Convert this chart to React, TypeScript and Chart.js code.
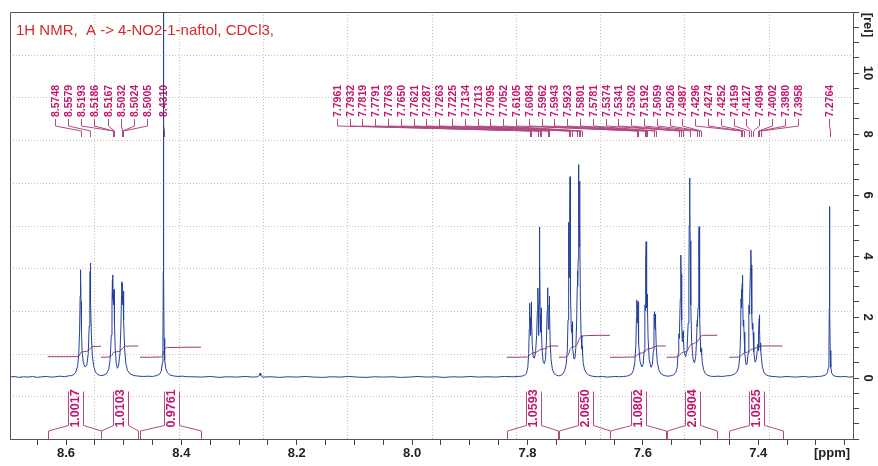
import React, { useEffect, useRef } from 'react';
import { Chart, registerables } from 'chart.js';

Chart.register(...registerables);

const W = 878;
const H = 466;
const X_MIN = 7.2358;
const X_MAX = 8.6971;
const Y_MIN = -2;
const Y_MAX = 12;
const FONT = "'Liberation Sans', Arial, sans-serif";

const titleText = '1H NMR,  A -> 4-NO2-1-naftol, CDCl3,';
const xUnit = '[ppm]';
const yUnit = '[rel]';
const xMajorTicks = [8.6, 8.4, 8.2, 8.0, 7.8, 7.6, 7.4];
const xMinorStep = 0.05;
const yMajorTicks = [0, 2, 4, 6, 8, 10];
const yMinorStep = 0.5;

// peak picking labels
const leftPeakLabels = [8.5748, 8.5579, 8.5193, 8.5186, 8.5167, 8.5032, 8.5024, 8.5005];
const rightPeakLabels = [
  7.7961, 7.7932, 7.7819, 7.7791, 7.7763, 7.765, 7.7621,
  7.7287, 7.7263, 7.7225, 7.7134, 7.7113, 7.7095, 7.7052,
  7.6105, 7.6084, 7.5962, 7.5943, 7.5923, 7.5801, 7.5781,
  7.5374, 7.5341, 7.5302, 7.5192, 7.5059, 7.5026, 7.4987,
  7.4296, 7.4274, 7.4252, 7.4159, 7.4127, 7.4094, 7.4002, 7.398, 7.3958,
];
const singlePeakLabels = [8.431, 7.2764];

// integrals
const integralStart = [8.6317, 8.5393, 8.4717, 7.8361, 7.7454, 7.657, 7.5588, 7.4502];
const integralEnd = [8.5393, 8.4747, 8.366, 7.7466, 7.657, 7.5605, 7.4711, 7.3577];
const integralValues = ['1.0017', '1.0103', '0.9761', '1.0593', '2.0650', '1.0802', '2.0904', '1.0525'];

// spectrum [ppm, intensity]
const spectrumA = [
  [8.697, 0.03], [8.69, 0.05], [8.682, 0.02], [8.674, 0.04], [8.666, 0.03], [8.658, 0.05], [8.65, 0.02],
  [8.642, 0.04], [8.634, 0.05], [8.626, 0.03], [8.618, 0.04], [8.61, 0.06], [8.602, 0.04], [8.596, 0.07],
  [8.59, 0.08], [8.586, 0.12], [8.583, 0.2], [8.58, 0.38], [8.578, 0.75], [8.5765, 1.5], [8.5755, 2.7],
  [8.575, 3.3], [8.5748, 3.55], [8.5745, 3.3], [8.574, 2.5], [8.5732, 1.5], [8.572, 0.85], [8.57, 0.5],
  [8.567, 0.36], [8.564, 0.42], [8.5615, 0.8], [8.5598, 1.7], [8.5587, 2.9], [8.5582, 3.5], [8.5579, 3.77],
  [8.5576, 3.4], [8.557, 2.5], [8.556, 1.4], [8.5545, 0.75], [8.552, 0.38], [8.549, 0.2], [8.545, 0.11],
  [8.54, 0.08], [8.535, 0.09], [8.53, 0.14], [8.526, 0.28], [8.5235, 0.6], [8.5215, 1.4], [8.5203, 2.5],
  [8.5196, 3.2], [8.5193, 3.38], [8.519, 2.6], [8.5187, 3.25], [8.5184, 2.5], [8.5178, 2.8], [8.5172, 2.4],
  [8.5167, 2.9], [8.516, 1.8], [8.5148, 1.0], [8.513, 0.5], [8.511, 0.32], [8.509, 0.38], [8.5065, 0.8],
  [8.5048, 1.7], [8.5038, 2.7], [8.5034, 3.0], [8.5032, 3.16], [8.5029, 2.5], [8.5026, 3.05], [8.5024, 3.1],
  [8.502, 2.4], [8.5013, 2.6], [8.5008, 2.5], [8.5005, 2.85], [8.4998, 1.9], [8.4985, 1.0], [8.4965, 0.5],
  [8.4935, 0.25], [8.489, 0.13], [8.482, 0.08], [8.474, 0.06], [8.466, 0.05], [8.458, 0.06], [8.45, 0.05],
  [8.443, 0.08], [8.438, 0.12], [8.435, 0.22], [8.433, 0.5], [8.432, 1.2], [8.4314, 3.5], [8.4311, 9],
  [8.431, 15], [8.4309, 9], [8.4306, 3.5], [8.43, 1.3], [8.429, 0.6], [8.427, 0.3], [8.424, 0.17],
  [8.42, 0.1], [8.414, 0.07], [8.406, 0.05], [8.398, 0.06], [8.39, 0.04],
];

const spectrumB = [
  [8.38, 0.04], [8.365, 0.03], [8.35, 0.05], [8.335, 0.02], [8.32, 0.04], [8.305, 0.03], [8.29, 0.05],
  [8.275, 0.03], [8.268, 0.04], [8.265, 0.08], [8.2637, 0.16], [8.2625, 0.08], [8.259, 0.03], [8.245, 0.04],
  [8.23, 0.02], [8.215, 0.04], [8.2, 0.03], [8.185, 0.05], [8.17, 0.03], [8.155, 0.02], [8.14, 0.04],
  [8.125, 0.03], [8.11, 0.05], [8.095, 0.03], [8.08, 0.02], [8.065, 0.04], [8.05, 0.03], [8.035, 0.04],
  [8.02, 0.02], [8.005, 0.03], [7.99, 0.05], [7.975, 0.03], [7.96, 0.04], [7.945, 0.02], [7.93, 0.04],
  [7.915, 0.03], [7.9, 0.05], [7.885, 0.03], [7.87, 0.04], [7.855, 0.03], [7.84, 0.05], [7.825, 0.04],
];

const spectrumC = [
  [7.816, 0.05], [7.81, 0.06], [7.806, 0.08], [7.802, 0.15], [7.7995, 0.35], [7.798, 0.8], [7.797, 1.6],
  [7.7964, 2.2], [7.7961, 2.45], [7.7957, 2.0], [7.795, 1.5], [7.7945, 1.4], [7.7938, 1.9], [7.7934, 2.4],
  [7.7932, 2.5], [7.7928, 2.0], [7.7918, 1.1], [7.79, 0.68], [7.788, 0.65], [7.786, 0.85], [7.7842, 1.4],
  [7.783, 2.2], [7.7823, 2.8], [7.7819, 2.95], [7.7815, 2.4], [7.7808, 1.4], [7.78, 2.4], [7.7795, 4.0],
  [7.7791, 4.95], [7.7787, 3.9], [7.778, 2.0], [7.7772, 1.5], [7.7766, 2.1], [7.7763, 2.3], [7.7758, 1.7],
  [7.7748, 0.95], [7.773, 0.55], [7.771, 0.47], [7.769, 0.6], [7.7672, 1.2], [7.766, 2.2], [7.7653, 2.8],
  [7.765, 2.96], [7.7646, 2.4], [7.7638, 1.6], [7.763, 1.8], [7.7625, 2.4], [7.7621, 2.69], [7.7617, 2.2],
  [7.7608, 1.2], [7.7592, 0.6], [7.757, 0.3], [7.754, 0.15], [7.75, 0.09], [7.746, 0.07], [7.742, 0.09],
  [7.7385, 0.14], [7.7355, 0.25], [7.733, 0.45], [7.731, 0.9], [7.7298, 1.9], [7.7291, 3.8], [7.7287, 5.1],
  [7.7283, 4.0], [7.7278, 3.3], [7.7272, 3.7], [7.7267, 5.2], [7.7263, 6.6], [7.7259, 5.0], [7.7252, 2.8],
  [7.7242, 1.6], [7.7232, 1.5], [7.7228, 1.75], [7.7225, 1.85], [7.7221, 1.5], [7.7212, 1.0], [7.7195, 0.62],
  [7.7178, 0.65], [7.7162, 1.0], [7.7148, 1.9], [7.7138, 3.0], [7.7134, 3.5], [7.7129, 3.0], [7.7122, 3.9],
  [7.7116, 6.0], [7.7113, 7.0], [7.711, 5.8], [7.7104, 4.3], [7.7099, 5.2], [7.7095, 6.45], [7.7091, 4.9],
  [7.7084, 2.6], [7.7072, 1.4], [7.7062, 1.0], [7.7056, 0.95], [7.7052, 1.05], [7.7046, 0.8], [7.7035, 0.5],
  [7.7015, 0.3], [7.6985, 0.17], [7.6945, 0.1],
];

const spectrumD = [
  [7.69, 0.07], [7.685, 0.05], [7.678, 0.04], [7.67, 0.05], [7.662, 0.03], [7.655, 0.04], [7.648, 0.05],
  [7.641, 0.04], [7.634, 0.05], [7.628, 0.06], [7.625, 0.08], [7.62, 0.12], [7.6165, 0.25], [7.614, 0.5],
  [7.6122, 1.1], [7.6112, 2.0], [7.6107, 2.45], [7.6105, 2.56], [7.6101, 2.2], [7.6095, 1.8], [7.6089, 2.2],
  [7.6086, 2.45], [7.6084, 2.5], [7.608, 2.0], [7.607, 1.15], [7.605, 0.55], [7.602, 0.36], [7.5995, 0.45],
  [7.5978, 0.9], [7.5968, 1.8], [7.5964, 2.3], [7.5962, 2.4], [7.5958, 2.2], [7.5952, 2.6], [7.5947, 3.8],
  [7.5943, 4.47], [7.5939, 3.6], [7.5932, 2.3], [7.5926, 2.6], [7.5923, 2.75], [7.5919, 2.3], [7.591, 1.3],
  [7.589, 0.6], [7.586, 0.35], [7.5835, 0.45], [7.5818, 0.9], [7.5808, 1.7], [7.5803, 2.1], [7.5801, 2.17],
  [7.5797, 1.9], [7.579, 1.6], [7.5785, 1.95], [7.5781, 2.1], [7.5777, 1.8], [7.5768, 1.0], [7.575, 0.5],
  [7.572, 0.25], [7.568, 0.13], [7.563, 0.08], [7.558, 0.06], [7.552, 0.07], [7.547, 0.1], [7.543, 0.18],
  [7.5405, 0.35],
];

const spectrumE = [
  [7.539, 0.8], [7.538, 1.2], [7.5376, 1.4], [7.5374, 1.45], [7.537, 1.3], [7.5362, 1.5], [7.5352, 2.6],
  [7.5345, 3.6], [7.5341, 4.03], [7.5337, 3.4], [7.5328, 1.9], [7.5318, 1.2], [7.5308, 1.3], [7.5304, 1.5],
  [7.5302, 1.55], [7.5298, 1.3], [7.5285, 0.85], [7.526, 0.7], [7.5235, 0.9], [7.5215, 1.8], [7.5203, 3.4],
  [7.5197, 5.0], [7.5192, 6.56], [7.5188, 5.2], [7.5184, 5.4], [7.518, 4.5], [7.517, 2.4], [7.5155, 1.2],
  [7.513, 0.6], [7.5105, 0.5], [7.5085, 0.7], [7.507, 1.2], [7.5062, 1.75], [7.5059, 1.9], [7.5055, 1.7],
  [7.5044, 2.3], [7.5034, 3.8], [7.503, 4.5], [7.5026, 4.96], [7.5022, 4.2], [7.5012, 2.0], [7.5, 1.0],
  [7.4993, 0.85], [7.4987, 0.95], [7.4982, 0.8], [7.497, 0.5], [7.495, 0.28], [7.492, 0.15], [7.488, 0.09],
  [7.483, 0.06], [7.477, 0.05], [7.47, 0.06], [7.462, 0.05], [7.455, 0.07], [7.448, 0.08], [7.442, 0.12],
  [7.437, 0.2], [7.434, 0.35], [7.432, 0.7], [7.4306, 1.5], [7.4299, 2.6], [7.4296, 2.9], [7.4292, 2.5],
  [7.4284, 2.3], [7.4278, 3.1], [7.4274, 3.37], [7.427, 2.8], [7.4262, 1.7], [7.4256, 1.8], [7.4252, 1.9],
  [7.4247, 1.5], [7.4235, 0.85], [7.4215, 0.45], [7.4195, 0.45], [7.4178, 0.8], [7.4166, 1.7], [7.4161, 2.3],
  [7.4159, 2.4], [7.4155, 2.1], [7.4145, 2.4], [7.4135, 3.6], [7.4131, 4.0], [7.4127, 4.2], [7.4123, 3.7],
  [7.4113, 2.1], [7.4103, 1.6], [7.4098, 1.75], [7.4094, 1.8], [7.409, 1.5], [7.4078, 0.85], [7.4055, 0.52],
  [7.4035, 0.6], [7.4018, 0.9], [7.4008, 1.1], [7.4004, 1.0], [7.4002, 1.1], [7.3998, 0.9], [7.399, 1.4],
  [7.3984, 1.95], [7.398, 2.07], [7.3976, 1.6], [7.397, 1.0], [7.3964, 0.9], [7.396, 1.1], [7.3958, 1.15],
  [7.3954, 0.95], [7.3945, 0.65], [7.393, 0.38], [7.3905, 0.2], [7.387, 0.11], [7.382, 0.07],
];

const spectrumF = [
  [7.376, 0.05], [7.368, 0.04], [7.36, 0.03], [7.352, 0.05], [7.344, 0.04], [7.336, 0.03], [7.328, 0.04],
  [7.32, 0.05], [7.312, 0.03], [7.304, 0.04], [7.296, 0.05], [7.29, 0.06], [7.284, 0.09], [7.28, 0.18],
  [7.2785, 0.35], [7.2775, 0.9], [7.2769, 2.3], [7.2766, 4.0], [7.2764, 5.62], [7.2762, 4.0], [7.2759, 2.3],
  [7.2753, 0.9], [7.2743, 0.35], [7.2728, 0.17], [7.27, 0.08], [7.265, 0.05], [7.258, 0.04], [7.25, 0.05],
  [7.243, 0.03], [7.2358, 0.04],
];

// integral curves [ppm, value]
const integral1 = [[8.6317, 0.7], [8.584, 0.7], [8.578, 0.72], [8.5755, 0.79], [8.573, 0.85], [8.565, 0.87], [8.5595, 0.93], [8.557, 1.0], [8.553, 1.03], [8.5393, 1.04]];
const integral2 = [[8.5393, 0.68], [8.524, 0.69], [8.5205, 0.74], [8.518, 0.83], [8.512, 0.86], [8.5045, 0.91], [8.501, 1.0], [8.497, 1.04], [8.4747, 1.05]];
const integral3 = [[8.4717, 0.68], [8.436, 0.69], [8.4325, 0.74], [8.4305, 0.88], [8.428, 0.97], [8.424, 1.0], [8.366, 1.01]];
const integral4 = [[7.8361, 0.68], [7.8, 0.69], [7.7965, 0.74], [7.7925, 0.81], [7.785, 0.84], [7.7785, 0.93], [7.77, 0.96], [7.764, 1.03], [7.758, 1.05], [7.7466, 1.05]];
const integral5 = [[7.7454, 0.68], [7.733, 0.69], [7.729, 0.77], [7.7255, 0.97], [7.72, 1.02], [7.714, 1.1], [7.71, 1.3], [7.705, 1.37], [7.698, 1.39], [7.657, 1.4]];
const integral6 = [[7.657, 0.68], [7.614, 0.69], [7.6095, 0.76], [7.605, 0.81], [7.597, 0.85], [7.593, 0.94], [7.586, 0.97], [7.579, 1.03], [7.573, 1.05], [7.5605, 1.05]];
const integral7 = [[7.5588, 0.68], [7.54, 0.69], [7.5355, 0.77], [7.531, 0.84], [7.5235, 0.88], [7.5185, 1.06], [7.512, 1.13], [7.5045, 1.22], [7.5, 1.36], [7.494, 1.4], [7.4711, 1.4]];
const integral8 = [[7.4502, 0.68], [7.433, 0.69], [7.4285, 0.76], [7.4245, 0.82], [7.4185, 0.85], [7.4125, 0.93], [7.4065, 0.97], [7.399, 1.02], [7.394, 1.05], [7.3577, 1.05]];

const SPEC_COLOR = '#24419c';
const INT_COLOR = '#9a3a78';
const LABEL_COLOR = '#c4156c';
const LEADER_COLOR = '#b24a82';

const toXY = (arr: number[][]) => arr.map(([x, y]) => ({ x, y }));

const decorPlugin = {
  id: 'nmrDecor',
  beforeDatasetsDraw(chart: any) {
    const { ctx, chartArea: a, scales } = chart;
    const xs = scales.x;
    ctx.save();
    // dotted grid 10 x 10
    ctx.strokeStyle = '#c2c2c2';
    ctx.lineWidth = 1;
    ctx.setLineDash([1, 2]);
    for (let k = 1; k < 10; k++) {
      const gx = Math.round(a.left + ((a.right - a.left) * k) / 10) + 0.5;
      ctx.beginPath();
      ctx.moveTo(gx, a.top);
      ctx.lineTo(gx, a.bottom);
      ctx.stroke();
      const gy = Math.round(a.top + ((a.bottom - a.top) * k) / 10) + 0.5;
      ctx.beginPath();
      ctx.moveTo(a.left, gy);
      ctx.lineTo(a.right, gy);
      ctx.stroke();
    }
    ctx.setLineDash([]);
    // frame
    ctx.strokeStyle = '#555';
    ctx.beginPath();
    ctx.moveTo(a.left + 0.5, a.bottom);
    ctx.lineTo(a.left + 0.5, a.top + 0.5);
    ctx.lineTo(a.right, a.top + 0.5);
    ctx.stroke();

    // peak labels
    const yTextBase = 117;
    const drawLabel = (value: number, lx: number) => {
      const px = Math.round(xs.getPixelForValue(value)) + 0.5;
      const lxx = Math.round(lx) + 0.5;
      ctx.strokeStyle = LEADER_COLOR;
      ctx.lineWidth = 1;
      ctx.beginPath();
      ctx.moveTo(lxx, 119);
      ctx.lineTo(lxx, 126);
      ctx.lineTo(px, 131);
      ctx.lineTo(px, 137);
      ctx.stroke();
      ctx.save();
      ctx.translate(lxx, yTextBase);
      ctx.rotate(-Math.PI / 2);
      ctx.fillStyle = LABEL_COLOR;
      ctx.font = `bold 10.5px ${FONT}`;
      ctx.textAlign = 'left';
      ctx.textBaseline = 'middle';
      ctx.fillText(value.toFixed(4), 0, 0.5);
      ctx.restore();
    };
    const leftX0 = a.left + 45;
    leftPeakLabels.forEach((v, i) => drawLabel(v, leftX0 + i * 13.15));
    const rightX0 = a.left + 326.7;
    rightPeakLabels.forEach((v, i) => drawLabel(v, rightX0 + i * 12.8));
    singlePeakLabels.forEach((v) => drawLabel(v, xs.getPixelForValue(v) - 1));
    ctx.restore();
  },
  afterDatasetsDraw(chart: any) {
    const { ctx, chartArea: a, scales } = chart;
    const xs = scales.x;
    const ys = scales.y;
    ctx.save();
    // integral brackets
    integralStart.forEach((s, i) => {
      const x1 = Math.round(xs.getPixelForValue(s)) + 0.5;
      const x2 = Math.round(xs.getPixelForValue(integralEnd[i])) + 0.5;
      const cx = (x1 + x2) / 2;
      const bl = Math.round(cx - 7.5) + 0.5;
      const br = Math.round(cx + 7.5) + 0.5;
      ctx.strokeStyle = LEADER_COLOR;
      ctx.lineWidth = 1;
      ctx.beginPath();
      ctx.moveTo(x1, a.bottom);
      ctx.lineTo(x1, 431);
      ctx.lineTo(bl, 425.5);
      ctx.lineTo(bl, 391.5);
      ctx.moveTo(x2, a.bottom);
      ctx.lineTo(x2, 431);
      ctx.lineTo(br, 425.5);
      ctx.lineTo(br, 391.5);
      ctx.stroke();
      ctx.save();
      ctx.translate(cx, 408.5);
      ctx.rotate(-Math.PI / 2);
      ctx.fillStyle = LABEL_COLOR;
      ctx.font = `bold 12.5px ${FONT}`;
      ctx.textAlign = 'center';
      ctx.textBaseline = 'middle';
      ctx.fillText(integralValues[i], 0, 0.5);
      ctx.restore();
    });
    ctx.restore();
  },
  afterDraw(chart: any) {
    const { ctx, chartArea: a, scales } = chart;
    const ys = scales.y;
    ctx.save();
    // title
    ctx.fillStyle = '#d42a2a';
    ctx.font = `15px ${FONT}`;
    ctx.textAlign = 'left';
    ctx.textBaseline = 'alphabetic';
    ctx.fillText(titleText, a.left + 6, 35);
    // y tick labels (rotated)
    ctx.fillStyle = '#222';
    ctx.font = `bold 13px ${FONT}`;
    ctx.textAlign = 'center';
    ctx.textBaseline = 'middle';
    yMajorTicks.forEach((v) => {
      const py = ys.getPixelForValue(v);
      ctx.save();
      ctx.translate(a.right + 15, py);
      ctx.rotate(Math.PI / 2);
      ctx.fillText(String(v), 0, 0);
      ctx.restore();
    });
    ctx.save();
    ctx.translate(a.right + 15, a.top + 13);
    ctx.rotate(Math.PI / 2);
    ctx.fillText(yUnit, 0, 0);
    ctx.restore();
    // x unit
    ctx.fillText(xUnit, a.right - 21, 453);
    ctx.restore();
  },
};

export default function App() {
  const canvasRef = useRef<HTMLCanvasElement | null>(null);

  useEffect(() => {
    const canvas = canvasRef.current;
    if (!canvas) return;
    const spectrum = [...spectrumA, ...spectrumB, ...spectrumC, ...spectrumD, ...spectrumE, ...spectrumF];
    const integrals = [integral1, integral2, integral3, integral4, integral5, integral6, integral7, integral8];

    const xTicks: number[] = [];
    for (let v = 7.25; v <= 8.6501; v += xMinorStep) xTicks.push(Math.round(v * 100) / 100);
    const yTicks: number[] = [];
    for (let v = Y_MIN; v <= Y_MAX + 1e-9; v += yMinorStep) yTicks.push(v);

    const datasets: any[] = [
      {
        label: 'spectrum',
        data: toXY(spectrum),
        borderColor: SPEC_COLOR,
        borderWidth: 1,
        pointRadius: 0,
        tension: 0,
        fill: false,
      },
      ...integrals.map((arr, i) => ({
        label: 'integral ' + (i + 1),
        data: toXY(arr),
        borderColor: INT_COLOR,
        borderWidth: 1,
        pointRadius: 0,
        cubicInterpolationMode: 'monotone',
        fill: false,
      })),
    ];

    const chart = new Chart(canvas, {
      type: 'line',
      data: { datasets },
      plugins: [decorPlugin],
      options: {
        animation: false,
        responsive: false,
        devicePixelRatio: 1,
        parsing: false as any,
        layout: { padding: { left: 10, top: 12, right: 0, bottom: 0 } },
        plugins: { legend: { display: false }, tooltip: { enabled: false } },
        scales: {
          x: {
            type: 'linear',
            reverse: true,
            min: X_MIN,
            max: X_MAX,
            afterBuildTicks: (scale: any) => {
              scale.ticks = xTicks.map((value) => ({ value }));
            },
            afterFit: (scale: any) => {
              scale.height = 27;
            },
            grid: { drawOnChartArea: false, drawTicks: true, tickLength: 6, color: '#444' },
            border: { display: true, color: '#555', width: 1 },
            ticks: {
              autoSkip: false,
              maxRotation: 0,
              minRotation: 0,
              padding: 1,
              color: '#222',
              font: { family: FONT, size: 13, weight: 'bold' },
              callback: (value: any) => {
                const v = Number(value);
                const hit = xMajorTicks.find((t) => Math.abs(t - v) < 1e-6);
                return hit !== undefined ? hit.toFixed(1) : '';
              },
            },
          },
          y: {
            type: 'linear',
            position: 'right',
            min: Y_MIN,
            max: Y_MAX,
            afterBuildTicks: (scale: any) => {
              scale.ticks = yTicks.map((value) => ({ value }));
            },
            afterFit: (scale: any) => {
              scale.width = 25;
            },
            grid: { drawOnChartArea: false, drawTicks: true, tickLength: 6, color: '#444' },
            border: { display: true, color: '#555', width: 1 },
            ticks: { display: false },
          },
        },
      } as any,
    });
    return () => chart.destroy();
  }, []);

  return (
    <div style={{ position: 'fixed', left: 0, top: 0, width: W, height: H, background: '#fff' }}>
      <canvas ref={canvasRef} width={W} height={H} style={{ display: 'block', width: W, height: H }} />
    </div>
  );
}
